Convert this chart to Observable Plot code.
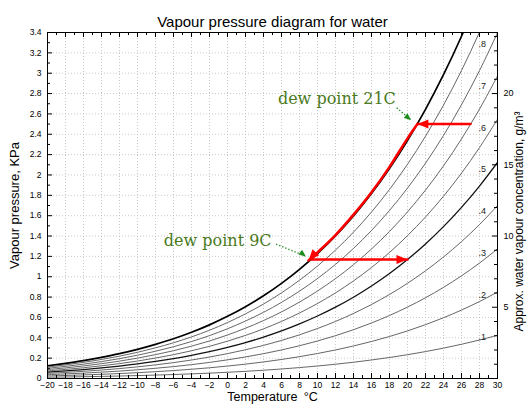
<!DOCTYPE html>
<html><head><meta charset="utf-8">
<script src="https://cdn.jsdelivr.net/npm/d3@7"></script>
<script src="https://cdn.jsdelivr.net/npm/@observablehq/plot@0.6"></script>
<style>body{margin:0;background:#fff} svg{display:block}</style>
</head><body><div id="chart"></div>
<script>
// ---- data ----
const temps = [-20,-18,-16,-14,-12,-10,-8,-6,-4,-2,0,2,4,6,8,10,12,14,16,18,20,22,24,26,28,30];
const satPressure = [0.125,0.149,0.176,0.208,0.244,0.286,0.335,0.390,0.454,0.527,0.611,0.706,0.813,0.935,1.073,1.228,1.402,1.598,1.818,2.064,2.339,2.645,2.985,3.363,3.782,4.246];
const rhLevels = [0.1,0.2,0.3,0.4,0.5,0.6,0.7,0.8,0.9,1.0];
const rhLabels = [".1",".2",".3",".4",".5",".6",".7",".8"];
const xTicks = [-20,-18,-16,-14,-12,-10,-8,-6,-4,-2,0,2,4,6,8,10,12,14,16,18,20,22,24,26,28,30];
const yTicks = [0,0.2,0.4,0.6,0.8,1,1.2,1.4,1.6,1.8,2,2.2,2.4,2.6,2.8,3,3.2,3.4];
const concTicks = [5,10,15,20];
const kPaPerGram = 0.14; // approx. conversion g/m3 -> kPa used by right axis
// red dew-point path
const coolT = [27.0, 21.1];            // horizontal arrow at 2.5 kPa (pointing left)
const coolP = [2.50, 2.50];
const dewT = [21.1, 20, 18, 16, 14, 12, 10, 9.0];
const dewP = [2.50, 2.36, 2.08, 1.83, 1.61, 1.41, 1.24, 1.16];
const warmT = [9.3, 20.0];             // horizontal arrow at 1.17 kPa (pointing right)
const warmP = [1.17, 1.17];
// annotations
const notes = [
  {text: "dew point 21C", x: 18.7, y: 2.75, fromX: 18.8, fromY: 2.66, toX: 20.4, toY: 2.54},
  {text: "dew point 9C", x: 4.9, y: 1.356, fromX: 5.4, fromY: 1.32, toX: 8.7, toY: 1.2}
];

// ---- derived tables ----
const curves = [];
for (const rh of rhLevels) temps.forEach((t, i) => curves.push({t, p: rh * satPressure[i], rh}));
const satAt = (T) => { const i = temps.findIndex(t => t >= T); if (temps[i] === T) return satPressure[i];
  const f = (T - temps[i-1]) / (temps[i] - temps[i-1]); return satPressure[i-1] + f * (satPressure[i] - satPressure[i-1]); };
const labelRows = rhLabels.map((s, i) => ({s, x: 28.3, y: rhLevels[i] * satAt(29.4)}));
const coolRows = coolT.map((t, i) => ({t, p: coolP[i]}));
const dewRows = dewT.map((t, i) => ({t, p: dewP[i]}));
const warmRows = warmT.map((t, i) => ({t, p: warmP[i]}));

const W = 531, H = 407, mL = 47, mR = 34, mT = 32, mB = 29;
const FW = W - mL - mR, FH = H - mT - mB;
const xMinor = d3.range(-19, 30, 2);
const yMinor = d3.range(1, 34, 2).map(d => d / 10);
const concMinor = d3.range(1, 25).filter(d => d % 5 !== 0);

const head = (len, half) => ({draw(ctx, l) { ctx.moveTo(0, -l); ctx.lineTo(-half, -l + len); ctx.lineTo(half, -l + len); ctx.closePath(); }});
const redHead = head(11, 4.5);
const greenHead = head(7, 3);
const fmtX = d => d < 0 ? "\u2212" + (-d) : String(d);
const fmtY = d => String(+d.toFixed(1));
const sans = "Liberation Sans, Arial, Helvetica, sans-serif";
const RED = "#ff0000", GREEN_T = "#4a7a1c", GREEN_A = "#1f8c1f";

const chart = Plot.plot({
  width: W, height: H,
  marginLeft: mL, marginRight: mR, marginTop: mT, marginBottom: mB,
  style: {fontFamily: sans, fontSize: "8.5px", color: "#000", background: "#fff"},
  x: {domain: [-20, 30], ticks: xTicks, tickSize: 0, tickPadding: 3, tickFormat: fmtX, label: null},
  y: {domain: [0, 3.4], ticks: yTicks, tickSize: 0, tickPadding: 6, tickFormat: fmtY, label: null},
  marks: [
    Plot.ruleX(xTicks, {stroke: "#bdbdbd", strokeDasharray: "1,2", strokeWidth: 0.8}),
    Plot.ruleY(yTicks, {stroke: "#bdbdbd", strokeDasharray: "1,2", strokeWidth: 0.8}),
    Plot.line(curves.filter(d => d.rh !== 0.5 && d.rh !== 1), {x: "t", y: "p", z: "rh", stroke: "#555", strokeWidth: 0.9, curve: "catmull-rom", clip: true}),
    Plot.line(curves.filter(d => d.rh === 0.5), {x: "t", y: "p", stroke: "#111", strokeWidth: 1.3, curve: "catmull-rom", clip: true}),
    Plot.line(curves.filter(d => d.rh === 1), {x: "t", y: "p", stroke: "#000", strokeWidth: 1.7, curve: "catmull-rom", clip: true}),
    Plot.frame({stroke: "#000", strokeWidth: 1}),
    // inward ticks
    Plot.tickX(xTicks, {x: d => d, insetTop: FH - 5, stroke: "#000"}),
    Plot.tickX(xMinor, {x: d => d, insetTop: FH - 3, stroke: "#000"}),
    Plot.tickX(xTicks, {x: d => d, insetBottom: FH - 5, stroke: "#000"}),
    Plot.tickX(xMinor, {x: d => d, insetBottom: FH - 3, stroke: "#000"}),
    Plot.tickY(yTicks, {y: d => d, insetRight: FW - 5, stroke: "#000"}),
    Plot.tickY(yMinor, {y: d => d, insetRight: FW - 3, stroke: "#000"}),
    Plot.tickY(concTicks, {y: d => d * kPaPerGram, insetLeft: FW - 5, stroke: "#000"}),
    Plot.tickY(concMinor, {y: d => d * kPaPerGram, insetLeft: FW - 3, stroke: "#000"}),
    Plot.text(concTicks, {y: d => d * kPaPerGram, text: d => String(d), frameAnchor: "right", dx: 6, textAnchor: "start", fontSize: 9}),
    // rh labels
    Plot.text(labelRows, {x: "x", y: "y", text: "s", fontSize: 9, fill: "#222"}),
    // red dew point path
    Plot.line(coolRows, {x: "t", y: "p", stroke: RED, strokeWidth: 2.5}),
    Plot.line(dewRows, {x: "t", y: "p", stroke: RED, strokeWidth: 2.5, curve: "catmull-rom"}),
    Plot.line(warmRows, {x: "t", y: "p", stroke: RED, strokeWidth: 2.5}),
    Plot.vector([coolRows[1]], {x: "t", y: "p", length: 11, rotate: -90, anchor: "end", shape: redHead, fill: RED, stroke: "none"}),
    Plot.vector([warmRows[1]], {x: "t", y: "p", length: 11, rotate: 90, anchor: "end", shape: redHead, fill: RED, stroke: "none"}),
    Plot.vector([dewRows[dewRows.length - 1]], {x: "t", y: "p", length: 11, rotate: 222, anchor: "end", shape: redHead, fill: RED, stroke: "none"}),
    // annotations
    Plot.text(notes, {x: "x", y: "y", text: "text", textAnchor: "end", fill: GREEN_T, fontFamily: "DejaVu Serif, serif", fontSize: 16}),
    Plot.link(notes, {x1: "fromX", y1: "fromY", x2: "toX", y2: "toY", stroke: GREEN_A, strokeWidth: 1.3, strokeDasharray: "1.3,2"}),
    Plot.vector(notes, {x: "toX", y: "toY", length: 7, rotate: 128, anchor: "end", shape: greenHead, fill: GREEN_A, stroke: "none"}),
    // titles
    Plot.text(["Vapour pressure diagram for water"], {frameAnchor: "top", dy: -16, fontSize: 15, textAnchor: "middle"}),
    Plot.text(["Temperature\u2002\u00b0C"], {frameAnchor: "bottom", dy: 22.5, fontSize: 12.5, textAnchor: "middle"}),
    Plot.text(["Vapour pressure, KPa"], {frameAnchor: "left", dx: -33, rotate: -90, fontSize: 13, textAnchor: "middle"}),
    Plot.text(["Approx. water vapour concentration, g/m\u00b3"], {frameAnchor: "right", dx: 22, dy: 16, rotate: -90, fontSize: 12, textAnchor: "middle"})
  ]
});
document.getElementById("chart").appendChild(chart);
</script>
</body></html>
